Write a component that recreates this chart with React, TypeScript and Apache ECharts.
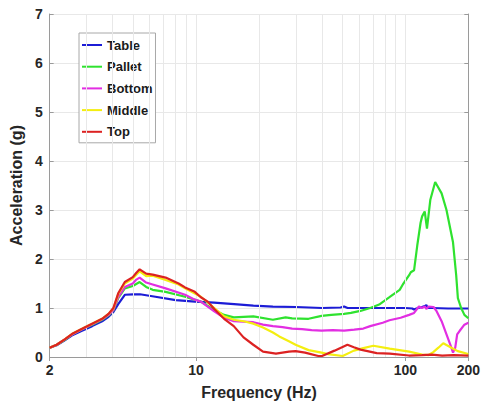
import React, { useEffect, useRef } from "react";
import * as echarts from "echarts";

const seriesNames = ["Table", "Pallet", "Bottom", "Middle", "Top"];
const seriesColors = ["#1c1cd6", "#2fe22f", "#e22ee2", "#f4ee10", "#dc2222"];

const tableFreq = [2, 2.16, 2.36, 2.58, 2.87, 3.19, 3.56, 3.82, 4.03, 4.25, 4.57, 5.0, 5.4, 6.4, 8.0, 9.9, 12.2, 15.2, 18.8, 23.3, 30, 40, 49, 51, 53, 60, 80, 100, 108, 110, 113, 120, 124, 126, 128, 135, 160, 200];
const tableAcc = [0.19, 0.24, 0.34, 0.45, 0.54, 0.63, 0.73, 0.82, 0.92, 1.08, 1.27, 1.28, 1.28, 1.23, 1.16, 1.13, 1.11, 1.08, 1.05, 1.03, 1.02, 1.0, 1.01, 1.03, 1.0, 1.0, 1.0, 1.0, 0.99, 0.97, 0.99, 1.02, 1.04, 1.06, 1.0, 1.0, 0.99, 0.99];

const palletFreq = [2, 2.16, 2.36, 2.58, 2.87, 3.19, 3.56, 3.82, 4.03, 4.25, 4.57, 4.99, 5.38, 5.78, 6.21, 7.16, 8.87, 10.55, 12.23, 13.62, 15.15, 18.8, 23.3, 26.8, 28.8, 34.5, 39.8, 44.3, 51, 55, 61, 68, 75, 84, 94, 97, 104.3, 106.2, 110.1, 114, 118.3, 120.3, 123.8, 126.9, 131.7, 138.9, 149.1, 157.3, 169, 175, 178.3, 184.8, 191.6, 200];
const palletAcc = [0.19, 0.25, 0.35, 0.47, 0.57, 0.66, 0.76, 0.85, 0.95, 1.2, 1.4, 1.45, 1.53, 1.43, 1.37, 1.33, 1.23, 1.13, 0.96, 0.86, 0.81, 0.83, 0.76, 0.81, 0.79, 0.78, 0.84, 0.86, 0.88, 0.9, 0.94, 1.0, 1.07, 1.22, 1.37, 1.47, 1.67, 1.73, 1.77, 2.27, 2.74, 2.87, 2.97, 2.62, 3.21, 3.57, 3.34, 3.0, 2.34, 1.67, 1.2, 1.0, 0.86, 0.79];

const bottomFreq = [2, 2.16, 2.36, 2.58, 2.87, 3.19, 3.56, 3.82, 4.03, 4.25, 4.57, 4.99, 5.19, 5.38, 5.78, 6.21, 7.16, 8.87, 9.87, 10.55, 12.23, 13.62, 15.15, 18.8, 20.9, 23.3, 25.9, 28.8, 32.1, 35.7, 39.8, 45, 51, 57, 63, 68, 78, 84, 95, 104.3, 110.1, 116.1, 120, 124, 126, 129.3, 136.4, 141.3, 149.1, 157.3, 166, 169, 173.2, 176.9, 181.6, 191.6, 200];
const bottomAcc = [0.19, 0.25, 0.36, 0.47, 0.57, 0.67, 0.77, 0.86, 0.96, 1.22, 1.43, 1.5, 1.58, 1.62, 1.52, 1.48, 1.4, 1.27, 1.17, 1.13, 0.93, 0.8, 0.73, 0.71, 0.66, 0.63, 0.61, 0.58, 0.57, 0.55, 0.54, 0.55, 0.54, 0.56, 0.58, 0.63, 0.7, 0.75, 0.8, 0.86, 0.9, 1.03, 1.0, 1.03, 0.98, 1.03, 1.02, 0.93, 0.73, 0.46, 0.19, 0.09, 0.19, 0.46, 0.53, 0.66, 0.7];

const middleFreq = [2, 2.16, 2.36, 2.58, 2.87, 3.19, 3.56, 3.82, 4.03, 4.25, 4.57, 4.99, 5.38, 5.78, 6.21, 7.16, 8.26, 8.87, 10.55, 12.23, 13.62, 15.15, 16.9, 18.8, 20.9, 23.3, 25, 27.8, 29.9, 34.5, 39.8, 42.7, 50.2, 56.8, 63, 70.4, 84.2, 104.3, 120.3, 129.3, 136, 143.9, 151.8, 158, 166, 178, 200];
const middleAcc = [0.19, 0.25, 0.36, 0.48, 0.58, 0.68, 0.78, 0.88, 0.99, 1.28, 1.5, 1.6, 1.75, 1.65, 1.66, 1.57, 1.48, 1.4, 1.23, 1.0, 0.83, 0.76, 0.73, 0.68, 0.6, 0.5, 0.42, 0.32, 0.25, 0.14, 0.09, 0.06, 0.02, 0.13, 0.18, 0.23, 0.17, 0.11, 0.05, 0.04, 0.1, 0.19, 0.28, 0.24, 0.19, 0.12, 0.06];

const topFreq = [2, 2.16, 2.36, 2.58, 2.87, 3.19, 3.56, 3.82, 4.03, 4.25, 4.57, 4.99, 5.19, 5.38, 5.78, 6.21, 7.16, 8.26, 8.87, 9.87, 10.55, 11.38, 12.23, 13.62, 15.15, 16.87, 18.78, 20.9, 24.1, 27.8, 29.9, 33.2, 38.4, 40, 45.9, 52.9, 56.8, 61.1, 73, 84.2, 104, 120, 134, 150, 170, 200];
const topAcc = [0.19, 0.25, 0.36, 0.48, 0.58, 0.68, 0.78, 0.88, 1.0, 1.3, 1.53, 1.63, 1.72, 1.79, 1.7, 1.68, 1.62, 1.5, 1.42, 1.33, 1.22, 1.13, 0.98, 0.78, 0.63, 0.4, 0.25, 0.11, 0.07, 0.11, 0.12, 0.09, 0.02, 0.02, 0.13, 0.25, 0.2, 0.15, 0.08, 0.07, 0.03, 0.04, 0.05, 0.03, 0.04, 0.03];

const xTickLabels = [2, 10, 100, 200];
const xGridValues = [3, 4, 5, 6, 7, 8, 9, 10, 20, 30, 40, 50, 60, 70, 80, 90, 100];

const FONT = "'Liberation Sans', Arial, Helvetica, sans-serif";

export default function App() {
  const ref = useRef<HTMLDivElement>(null);
  useEffect(() => {
    const chart = echarts.init(ref.current!, null, { renderer: "svg" });
    const pair = (f: number[], a: number[]) => f.map((x, i) => [x, a[i]]);
    const freqs = [tableFreq, palletFreq, bottomFreq, middleFreq, topFreq];
    const accs = [tableAcc, palletAcc, bottomAcc, middleAcc, topAcc];
    const axisColor = "#9a9a9a";
    const labelStyle = { fontFamily: FONT, fontWeight: "bold" as const, fontSize: 14, color: "#262626" };
    chart.setOption({
      animation: false,
      backgroundColor: "#ffffff",
      grid: { left: 41, top: 14, right: 12.3, bottom: 42, containLabel: false },
      legend: {
        data: seriesNames,
        orient: "vertical",
        left: 79,
        top: 33,
        icon: "rect",
        itemWidth: 20,
        itemHeight: 2,
        itemGap: 5.7,
        padding: [4, 3, 3, 3],
        backgroundColor: "#ffffff",
        borderColor: "#a8a8a8",
        borderWidth: 1,
        borderRadius: 0,
        itemStyle: { borderWidth: 0 },
        textStyle: { fontFamily: FONT, fontWeight: "bold", fontSize: 13, color: "#1a1a1a", lineHeight: 16 },
      },
      xAxis: [
        {
          type: "log",
          logBase: 10,
          min: 2,
          max: 200,
          name: "Frequency (Hz)",
          nameLocation: "middle",
          nameGap: 27,
          nameTextStyle: { fontFamily: FONT, fontWeight: "bold", fontSize: 16, color: "#262626" },
          axisLine: { show: true, lineStyle: { color: axisColor, width: 1 } },
          axisTick: { show: true, inside: true, length: 4, lineStyle: { color: axisColor } },
          axisLabel: {
            ...labelStyle,
            margin: 6,
            showMinLabel: true,
            showMaxLabel: true,
            formatter: (v: number) => {
              const r = Math.round(v);
              return xTickLabels.includes(r) ? String(r) : "";
            },
          },
          splitLine: { show: false },
        },
        {
          type: "log",
          logBase: 10,
          min: 2,
          max: 200,
          position: "top",
          axisLine: { show: true, lineStyle: { color: axisColor, width: 1 } },
          axisTick: { show: true, inside: true, length: 4, lineStyle: { color: axisColor } },
          axisLabel: { show: false },
          splitLine: { show: false },
        },
      ],
      yAxis: [
        {
          type: "value",
          min: 0,
          max: 7,
          interval: 1,
          name: "Acceleration (g)",
          nameLocation: "middle",
          nameGap: 16,
          nameTextStyle: { fontFamily: FONT, fontWeight: "bold", fontSize: 16, color: "#262626" },
          axisLine: { show: true, lineStyle: { color: axisColor, width: 1 } },
          axisTick: { show: true, inside: true, length: 4, lineStyle: { color: axisColor } },
          axisLabel: { ...labelStyle, margin: 7 },
          splitLine: { show: true, lineStyle: { color: "#e8e8e8", width: 1 } },
        },
        {
          type: "value",
          min: 0,
          max: 7,
          interval: 1,
          position: "right",
          axisLine: { show: true, lineStyle: { color: axisColor, width: 1 } },
          axisTick: { show: true, inside: true, length: 4, lineStyle: { color: axisColor } },
          axisLabel: { show: false },
          splitLine: { show: false },
        },
      ],
      series: [
        {
          name: "grid",
          type: "line",
          data: [],
          z: 1,
          silent: true,
          markLine: {
            silent: true,
            symbol: ["none", "none"],
            label: { show: false },
            lineStyle: { color: "#e8e8e8", width: 1, type: "solid" },
            emphasis: { disabled: true },
            data: xGridValues.map((v) => ({ xAxis: v })),
          },
        },
        ...seriesNames.map((name, i) => ({
          name,
          type: "line",
          data: pair(freqs[i], accs[i]),
          showSymbol: false,
          symbol: "none",
          color: seriesColors[i],
          itemStyle: { color: seriesColors[i] },
          lineStyle: { color: seriesColors[i], width: 2.2 },
          z: 3 + i,
        })),
      ],
    });
    return () => chart.dispose();
  }, []);
  return <div ref={ref} style={{ position: "fixed", left: 0, top: 0, width: 483, height: 405 }} />;
}
